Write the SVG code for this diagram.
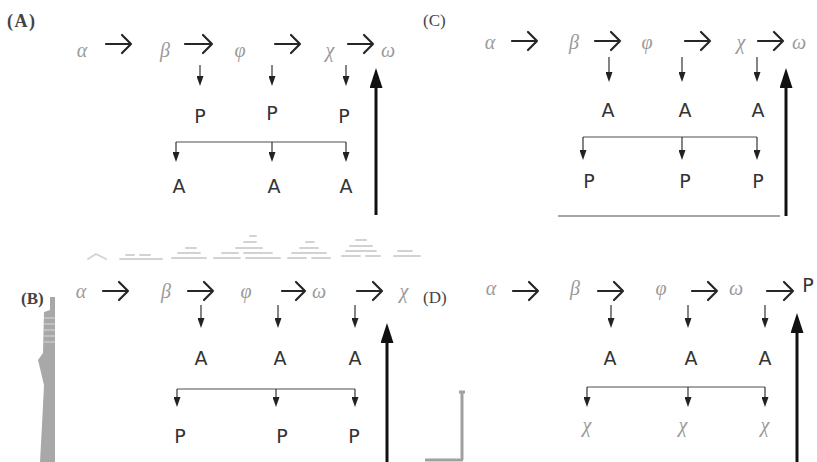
<svg xmlns="http://www.w3.org/2000/svg" width="817" height="462" viewBox="0 0 817 462">
<defs>
<style>
.lbl{font-family:"Liberation Serif",serif;font-size:17px;fill:#444}
.b{font-weight:bold}
.g{font-family:"Liberation Serif",serif;font-style:italic;font-size:20px;fill:#9a9a9a;text-anchor:middle}
.s{font-family:"DejaVu Sans",sans-serif;font-size:19px;fill:#333;text-anchor:middle}
.ra{fill:none;stroke:#262626;stroke-width:2.2;stroke-linecap:round;stroke-linejoin:round}
.sa{stroke:#333;stroke-width:1.2;fill:none;marker-end:url(#sm)}
.hl{stroke:#888;stroke-width:1.3;fill:none}
.big{stroke:#111;stroke-width:3;fill:none;marker-end:url(#bg)}
.art{fill:none;stroke:#d2d2d2;stroke-width:1.8;stroke-linecap:round}
</style>
<marker id="sm" viewBox="0 0 10 7" refX="0" refY="3.5" markerWidth="10" markerHeight="7" markerUnits="userSpaceOnUse" orient="auto"><path d="M0,0 L10,3.5 L0,7 z" fill="#222"/></marker>
<marker id="bg" viewBox="0 0 20 13" refX="0" refY="6.5" markerWidth="20" markerHeight="13" markerUnits="userSpaceOnUse" orient="auto"><path d="M0,0 L20,6.5 L0,13 z" fill="#111"/></marker>
</defs>
<rect width="817" height="462" fill="#fff"/>

<!-- artifacts -->
<g id="artifacts">
<path d="M50,297 L55,297 L55,462 L40,462 L42,425 L44,385 L38,360 L43,353 L44,312 L50,310 Z" fill="#a8a8a8"/>
<path d="M44,318 H55 M44,324 H55 M44,330 H55 M44,336 H55 M44,342 H55" stroke="#d8d8d8" stroke-width="1.2"/>
<path d="M462,393 V460 M425,460 H463" stroke="#a0a0a0" stroke-width="3" fill="none"/>
<path d="M459,392 H465" stroke="#a0a0a0" stroke-width="3"/>
<path class="art" d="M88,259 L96,254 L106,259 M120,259 H162 M126,255 H134 M140,255 H150 M172,258 H206 M178,253 H200 M186,248 H196 M214,258 H240 M246,258 H280 M222,253 H238 M244,253 H272 M236,248 H262 M244,242 H256 M250,236 H256 M288,258 H306 M312,258 H330 M292,253 H326 M300,248 H318 M306,242 H314 M342,256 H360 M366,256 H380 M346,251 H376 M350,246 H372 M356,240 H366 M394,256 H420 M398,251 H412"/>
</g>

<!-- connectors -->
<g id="connectors">
<!-- Panel A -->
<path class="ra" d="M106,44 H131 M122,35 L131,44 L122,53"/>
<path class="ra" d="M185,44 H212 M203,35 L212,44 L203,53"/>
<path class="ra" d="M275,44 H300 M291,35 L300,44 L291,53"/>
<path class="ra" d="M348,44 H373 M364,35 L373,44 L364,53"/>
<line class="sa" x1="200" y1="65" x2="200" y2="76"/>
<line class="sa" x1="272" y1="65" x2="272" y2="76"/>
<line class="sa" x1="346" y1="65" x2="346" y2="76"/>
<line class="hl" x1="176" y1="142" x2="346" y2="142"/>
<line class="sa" x1="176" y1="142" x2="176" y2="152"/>
<line class="sa" x1="272" y1="142" x2="272" y2="152"/>
<line class="sa" x1="346" y1="142" x2="346" y2="152"/>
<line class="big" x1="376" y1="215" x2="376" y2="88"/>
<!-- Panel C -->
<path class="ra" d="M512,41 H537 M528,32 L537,41 L528,50"/>
<path class="ra" d="M595,41 H620 M611,32 L620,41 L611,50"/>
<path class="ra" d="M685,41 H710 M701,32 L710,41 L701,50"/>
<path class="ra" d="M758,41 H783 M774,32 L783,41 L774,50"/>
<line class="sa" x1="609" y1="57" x2="609" y2="72"/>
<line class="sa" x1="682" y1="57" x2="682" y2="72"/>
<line class="sa" x1="757" y1="57" x2="757" y2="72"/>
<line class="hl" x1="583" y1="137" x2="757" y2="137"/>
<line class="sa" x1="583" y1="137" x2="583" y2="150"/>
<line class="sa" x1="682" y1="137" x2="682" y2="150"/>
<line class="sa" x1="757" y1="137" x2="757" y2="150"/>
<line class="hl" x1="558" y1="216" x2="780" y2="216"/>
<line class="big" x1="786" y1="216" x2="786" y2="88"/>
<!-- Panel B -->
<path class="ra" d="M103,291 H128 M119,282 L128,291 L119,300"/>
<path class="ra" d="M188,291 H213 M204,282 L213,291 L204,300"/>
<path class="ra" d="M282,291 H305 M296,282 L305,291 L296,300"/>
<path class="ra" d="M357,291 H382 M373,282 L382,291 L373,300"/>
<line class="sa" x1="201" y1="305" x2="201" y2="318"/>
<line class="sa" x1="278" y1="305" x2="278" y2="318"/>
<line class="sa" x1="355" y1="305" x2="355" y2="318"/>
<line class="hl" x1="177" y1="389" x2="355" y2="389"/>
<line class="sa" x1="177" y1="389" x2="177" y2="397"/>
<line class="sa" x1="276" y1="389" x2="276" y2="397"/>
<line class="sa" x1="355" y1="389" x2="355" y2="397"/>
<line class="big" x1="387" y1="462" x2="387" y2="343"/>
<!-- Panel D -->
<path class="ra" d="M513,291 H538 M529,282 L538,291 L529,300"/>
<path class="ra" d="M598,291 H623 M614,282 L623,291 L614,300"/>
<path class="ra" d="M692,291 H717 M708,282 L717,291 L708,300"/>
<path class="ra" d="M767,291 H793 M784,282 L793,291 L784,300"/>
<line class="sa" x1="611" y1="305" x2="611" y2="318"/>
<line class="sa" x1="688" y1="305" x2="688" y2="318"/>
<line class="sa" x1="765" y1="305" x2="765" y2="318"/>
<line class="hl" x1="587" y1="387" x2="765" y2="387"/>
<line class="sa" x1="587" y1="387" x2="587" y2="397"/>
<line class="sa" x1="688" y1="387" x2="688" y2="397"/>
<line class="sa" x1="765" y1="387" x2="765" y2="397"/>
<line class="big" x1="797" y1="462" x2="797" y2="333"/>
</g>

<!-- Panel A nodes -->
<g id="labelA"><text class="lbl b" x="7" y="27" style="font-size:18px;letter-spacing:1.5px">(A)</text></g>
<g id="A-alpha"><text class="g" x="82" y="57">α</text></g>
<g id="A-beta"><text class="g" x="165" y="57">β</text></g>
<g id="A-phi"><text class="g" x="240" y="57">φ</text></g>
<g id="A-chi"><text class="g" x="330" y="57">χ</text></g>
<g id="A-omega"><text class="g" x="388" y="57">ω</text></g>
<g id="A-P1"><text class="s" x="200" y="123">P</text></g>
<g id="A-P2"><text class="s" x="272" y="120">P</text></g>
<g id="A-P3"><text class="s" x="344" y="123">P</text></g>
<g id="A-A1"><text class="s" x="179" y="193">A</text></g>
<g id="A-A2"><text class="s" x="274" y="193">A</text></g>
<g id="A-A3"><text class="s" x="346" y="193">A</text></g>

<!-- Panel C nodes -->
<g id="labelC"><text class="lbl" x="423" y="26">(C)</text></g>
<g id="C-alpha"><text class="g" x="490" y="49">α</text></g>
<g id="C-beta"><text class="g" x="574" y="49">β</text></g>
<g id="C-phi"><text class="g" x="647" y="49">φ</text></g>
<g id="C-chi"><text class="g" x="741" y="49">χ</text></g>
<g id="C-omega"><text class="g" x="799" y="49">ω</text></g>
<g id="C-A1"><text class="s" x="608" y="117">A</text></g>
<g id="C-A2"><text class="s" x="685" y="117">A</text></g>
<g id="C-A3"><text class="s" x="758" y="117">A</text></g>
<g id="C-P1"><text class="s" x="589" y="188">P</text></g>
<g id="C-P2"><text class="s" x="685" y="188">P</text></g>
<g id="C-P3"><text class="s" x="758" y="188">P</text></g>

<!-- Panel B nodes -->
<g id="labelB"><text class="lbl b" x="21" y="304">(B)</text></g>
<g id="B-alpha"><text class="g" x="81" y="298">α</text></g>
<g id="B-beta"><text class="g" x="166" y="298">β</text></g>
<g id="B-phi"><text class="g" x="246" y="298">φ</text></g>
<g id="B-omega"><text class="g" x="319" y="298">ω</text></g>
<g id="B-chi"><text class="g" x="404" y="298">χ</text></g>
<g id="B-A1"><text class="s" x="201" y="365">A</text></g>
<g id="B-A2"><text class="s" x="280" y="365">A</text></g>
<g id="B-A3"><text class="s" x="355" y="365">A</text></g>
<g id="B-P1"><text class="s" x="180" y="443">P</text></g>
<g id="B-P2"><text class="s" x="282" y="443">P</text></g>
<g id="B-P3"><text class="s" x="354" y="443">P</text></g>

<!-- Panel D nodes -->
<g id="labelD"><text class="lbl" x="423" y="303">(D)</text></g>
<g id="D-alpha"><text class="g" x="491" y="295">α</text></g>
<g id="D-beta"><text class="g" x="575" y="295">β</text></g>
<g id="D-phi"><text class="g" x="661" y="295">φ</text></g>
<g id="D-omega"><text class="g" x="736" y="295">ω</text></g>
<g id="D-P"><text class="s" x="808" y="292">P</text></g>
<g id="D-A1"><text class="s" x="610" y="365">A</text></g>
<g id="D-A2"><text class="s" x="691" y="365">A</text></g>
<g id="D-A3"><text class="s" x="765" y="365">A</text></g>
<g id="D-chi1"><text class="g" x="587" y="432">χ</text></g>
<g id="D-chi2"><text class="g" x="683" y="432">χ</text></g>
<g id="D-chi3"><text class="g" x="765" y="432">χ</text></g>
</svg>
